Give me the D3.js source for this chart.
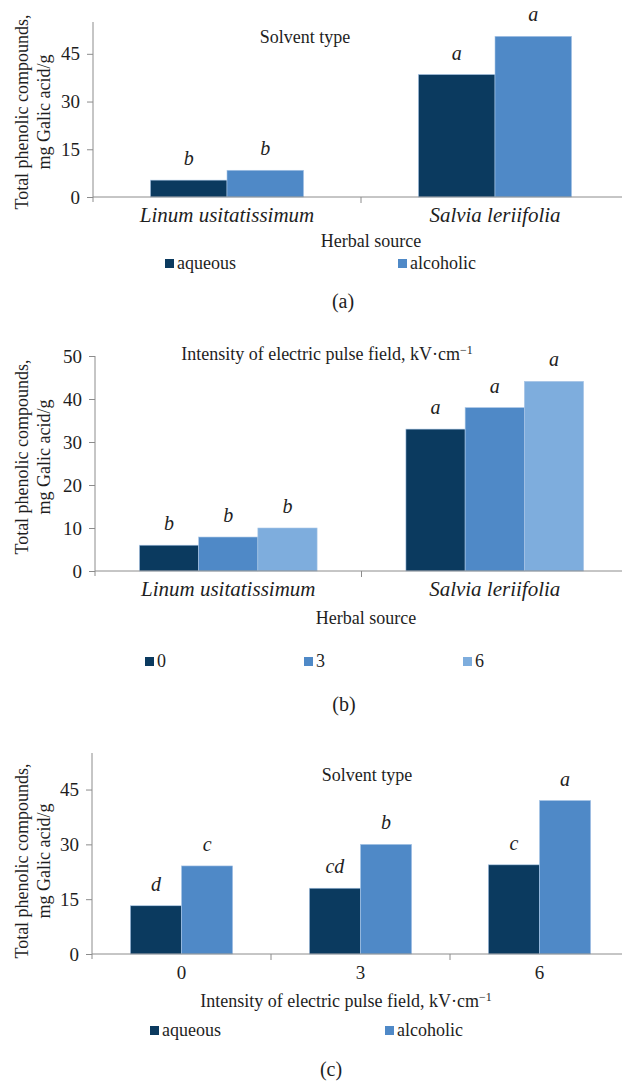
<!DOCTYPE html>
<head>
  <meta charset="utf-8">
  <script src="https://cdnjs.cloudflare.com/ajax/libs/d3/7.8.5/d3.min.js"></script>
  <style>
    body { margin: 0; background: #fff; }
    text { font-family: "Liberation Serif", "Times New Roman", serif; fill: #1e1e1e; }
    .ital { font-style: italic; }
  </style>
</head>
<body>
<svg id="fig"></svg>
<script>
// ---- data ----
// (a) solvent type by herbal source
var catsA = ["Linum usitatissimum", "Salvia leriifolia"];
var seriesA = ["aqueous", "alcoholic"];
var valsA = [[5.3, 8.4], [38.5, 50.5]];
var lettersA = [["b", "b"], ["a", "a"]];
var ticksA = [0, 15, 30, 45];

// (b) field intensity by herbal source
var catsB = ["Linum usitatissimum", "Salvia leriifolia"];
var seriesB = ["0", "3", "6"];
var valsB = [[6.0, 7.9, 10.0], [33.0, 38.0, 44.1]];
var lettersB = [["b", "b", "b"], ["a", "a", "a"]];
var ticksB = [0, 10, 20, 30, 40, 50];

// (c) solvent type by field intensity
var catsC = ["0", "3", "6"];
var seriesC = ["aqueous", "alcoholic"];
var valsC = [[13.2, 24.1], [18.0, 30.0], [24.4, 42.0]];
var lettersC = [["d", "c"], ["cd", "b"], ["c", "a"]];
var ticksC = [0, 15, 30, 45];

var colors = ["#0b3a5f", "#4f89c7", "#7eaddd"];

var svg = d3.select("#fig").attr("width", 622).attr("height", 1082);

//one grouped bar chart
function drawChart(o) {
  var g = svg.append("g");
  var x0 = d3.scaleBand().domain(o.cats).range([o.left, o.right]).padding(0);
  var bw = x0.bandwidth();
  var groupW = bw / (1 + o.gap);
  var x1 = d3.scaleBand().domain(o.series)
    .range([(bw - groupW) / 2, (bw + groupW) / 2]);
  var y = d3.scaleLinear().domain([0, o.max]).range([o.zero, o.top]);
  var color = d3.scaleOrdinal().domain(o.series).range(colors);

  // y axis
  var yAx = g.append("g")
    .attr("transform", "translate(" + o.left + ",0)")
    .call(d3.axisLeft(y).tickValues(o.ticks).tickSize(6).tickPadding(7));
  yAx.select(".domain").remove();
  yAx.selectAll("line").attr("stroke", "#8c8c8c");
  yAx.selectAll("text").style("font-size", "19px")
    .style("font-family", '"Liberation Serif", "Times New Roman", serif').attr("fill", "#1e1e1e");
  g.append("line").attr("x1", o.left).attr("x2", o.left)
    .attr("y1", o.top).attr("y2", o.zero + 5)
    .attr("stroke", "#8c8c8c");

  // bars
  var grp = g.selectAll(".grp").data(o.cats).enter().append("g")
    .attr("transform", function(d) { return "translate(" + x0(d) + ",0)"; });
  var rows = function(d, i) { return o.series.map(function(s, j) { return {s: s, v: o.vals[i][j], l: o.letters[i][j]}; }); };
  grp.selectAll("rect")
    .data(rows)
    .enter().append("rect")
    .attr("x", function(d) { return x1(d.s); })
    .attr("width", x1.bandwidth())
    .attr("y", function(d) { return y(d.v); })
    .attr("height", function(d) { return y(0) - y(d.v); })
    .attr("fill", function(d) { return color(d.s); })
    .attr("stroke", "#a9c6e6").attr("stroke-width", 0.6);
  grp.selectAll(".lt")
    .data(rows)
    .enter().append("text")
    .attr("class", "ital")
    .attr("x", function(d) { return x1(d.s) + x1.bandwidth() / 2; })
    .attr("y", function(d) { return y(d.v) - 15; })
    .attr("text-anchor", "middle")
    .style("font-size", "20px")
    .text(function(d) { return d.l; });

  // x axis line + separator ticks
  g.append("line").attr("x1", o.left).attr("x2", o.right)
    .attr("y1", o.zero).attr("y2", o.zero).attr("stroke", "#8c8c8c");
  g.selectAll(".sep").data(o.cats.slice(1)).enter().append("line")
    .attr("x1", function(d) { return x0(d); }).attr("x2", function(d) { return x0(d); })
    .attr("y1", o.zero).attr("y2", o.zero + 6).attr("stroke", "#8c8c8c");
  g.selectAll(".cl").data(o.cats).enter().append("text")
    .attr("class", o.catItalic ? "ital" : null)
    .attr("x", function(d) { return x0(d) + bw / 2; })
    .attr("y", o.zero + 25)
    .attr("text-anchor", "middle")
    .style("font-size", o.catItalic ? "21px" : "19px")
    .text(function(d) { return d; });

  // y title
  var yt = g.append("text")
    .attr("transform", "translate(0," + o.ylabY + ") rotate(-90)")
    .attr("text-anchor", "middle").style("font-size", "18px");
  yt.append("tspan").attr("x", 0).attr("y", 28).text("Total phenolic compounds,");
  yt.append("tspan").attr("x", 0).attr("y", 50).text("mg Galic acid/g");

  // legend title inside plot
  addLabel(g, o.title, o.titleX, o.titleY);
  // x title
  addLabel(g, o.xTitle, o.xTitleX, o.xTitleY);

  // legend
  var lg = g.selectAll(".lg").data(o.series).enter().append("g")
    .attr("transform", function(d, i) { return "translate(" + o.legX[i] + "," + o.legY + ")"; });
  lg.append("rect").attr("x", 0).attr("y", -10).attr("width", 9).attr("height", 9)
    .attr("fill", function(d) { return color(d); });
  lg.append("text").attr("x", 12).attr("y", 0).style("font-size", "18px")
    .text(function(d) { return d; });

  g.append("text").attr("x", o.panelX).attr("y", o.panelY)
    .attr("text-anchor", "middle").style("font-size", "20px").text(o.panel);
}

function addLabel(g, txt, x, y) {
  var t = g.append("text").attr("x", x).attr("y", y)
    .attr("text-anchor", "middle").style("font-size", "18px");
  if (txt.indexOf("kV") >= 0) {
    t.append("tspan").text("Intensity of electric pulse field, kV\u00b7cm");
    t.append("tspan").attr("dy", -6).style("font-size", "12px").text("\u22121");
  } else {
    t.text(txt);
  }
}

drawChart({
  cats: catsA, series: seriesA, vals: valsA, letters: lettersA, ticks: ticksA,
  max: 55, left: 93, right: 629, zero: 197, top: 22, gap: 0.75, catItalic: true,
  ylabY: 112, title: "Solvent type", titleX: 305, titleY: 43,
  xTitle: "Herbal source", xTitleX: 371, xTitleY: 247,
  legX: [165, 398], legY: 269, panel: "(a)", panelX: 343, panelY: 308
});

drawChart({
  cats: catsB, series: seriesB, vals: valsB, letters: lettersB, ticks: ticksB,
  max: 50, left: 95, right: 628, zero: 571, top: 356, gap: 0.5, catItalic: true,
  ylabY: 457, title: "kV", titleX: 327, titleY: 360,
  xTitle: "Herbal source", xTitleX: 366, xTitleY: 624,
  legX: [145, 304, 463], legY: 667, panel: "(b)", panelX: 344, panelY: 711
});

drawChart({
  cats: catsC, series: seriesC, vals: valsC, letters: lettersC, ticks: ticksC,
  max: 55, left: 92, right: 629, zero: 954, top: 753, gap: 0.75, catItalic: false,
  ylabY: 861, title: "Solvent type", titleX: 367, titleY: 781,
  xTitle: "kV", xTitleX: 346, xTitleY: 1007,
  legX: [150, 385], legY: 1036, panel: "(c)", panelX: 331, panelY: 1076
});
</script>
</body>
